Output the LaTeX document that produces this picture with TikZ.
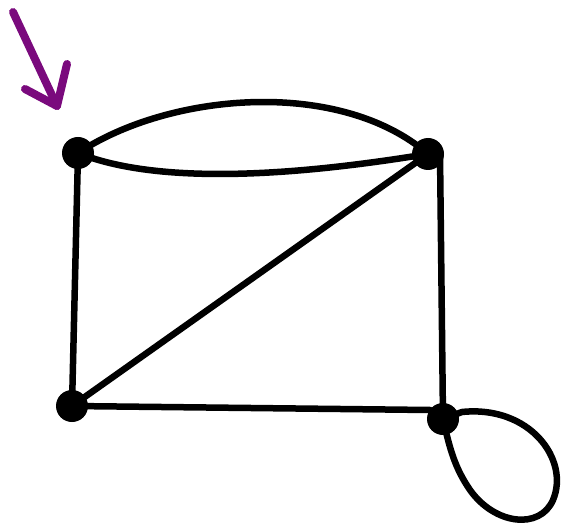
\documentclass[tikz,border=0pt]{standalone}
\usepackage{tikz}
\usetikzlibrary{arrows.meta}
\definecolor{grPurple}{HTML}{7A0A7D}
\tikzset{
  grvert/.style={circle,fill=black,draw=none,minimum size=32pt,inner sep=0pt},
  gredge/.style={draw=black,line width=6.5pt,line cap=round},
  grmark/.style={draw=grPurple,line width=8pt,line cap=round,line join=round},
}

\begin{document}
\begin{tikzpicture}[x=1pt,y=-1pt]
  \useasboundingbox (0,0) rectangle (564,526);

  \node[grvert] (TL) at (78,153) {};
  \node[grvert] (TR) at (428,154) {};
  \node[grvert] (BL) at (72,406) {};
  \node[grvert] (BR) at (443,419) {};

  % edges
  \draw[gredge] (TL.center) .. controls (170,92) and (340,78) .. (TR.center);
  \draw[gredge] (TL.center) .. controls (170,190) and (330,170) .. (TR.center);
  \draw[gredge] (TL.center) -- (BL.center);
  \draw[gredge] (TR.center) -- (BL.center);
  \draw[gredge] (BL.center) -- (430,410) -- (BR.center);
  \draw[gredge] (440,154) -- (BR.center);
  \draw[gredge] (BR.center) -- (462,412) .. controls (530,405) and (570,460) .. (553,500)
    .. controls (540,530) and (495,525) .. (470,490) .. controls (455,468) and (450,450) .. (BR.center);

  % start marker
  \coordinate (MkA) at (13,12);
  \coordinate (MkB) at (57,106);
  \draw[grmark] (MkA) -- (MkB);
  \draw[grmark] (25,89) -- (MkB) -- (67,64);
\end{tikzpicture}
\end{document}
